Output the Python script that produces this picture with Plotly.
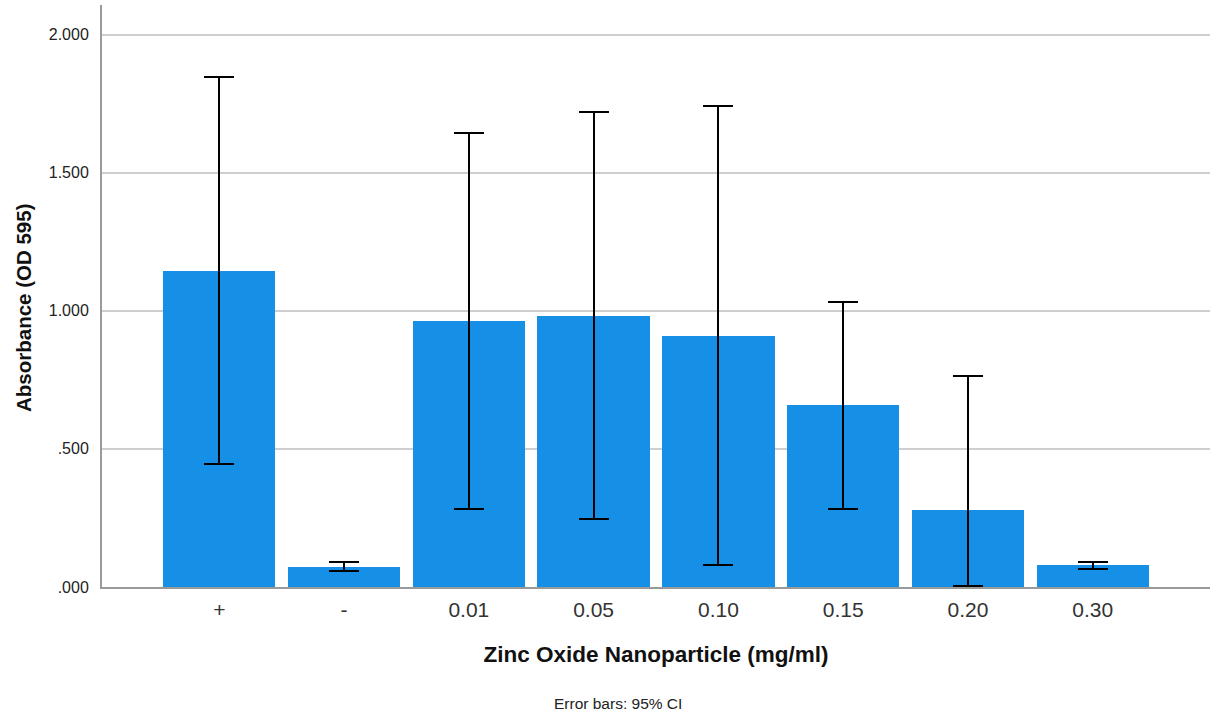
import plotly.graph_objects as go

categories = ["+", "-", "0.01", "0.05", "0.10", "0.15", "0.20", "0.30"]
means = [1.143, 0.074, 0.962, 0.980, 0.908, 0.658, 0.277, 0.080]
ci_upper = [1.846, 0.092, 1.643, 1.719, 1.741, 1.031, 0.763, 0.091]
ci_lower = [0.444, 0.057, 0.284, 0.245, 0.078, 0.284, 0.002, 0.066]
y_ticks = [0, 0.5, 1.0, 1.5, 2.0]
y_tick_labels = [".000", ".500", "1.000", "1.500", "2.000"]

x = list(range(len(categories)))
err_plus = [u - m for u, m in zip(ci_upper, means)]
err_minus = [m - l for m, l in zip(means, ci_lower)]

fig = go.Figure()
fig.add_trace(go.Bar(
    x=x, y=means, width=0.9,
    marker=dict(color="#1590e6", line=dict(width=0)),
    error_y=dict(type="data", symmetric=False, array=err_plus, arrayminus=err_minus,
                 color="black", thickness=2, width=15),
))

fig.update_layout(
    width=1211, height=715,
    margin=dict(l=102, r=1, t=5, b=128),
    plot_bgcolor="white", paper_bgcolor="white",
    font=dict(family="Liberation Sans, Arial, sans-serif", color="#222"),
    showlegend=False,
    bargap=0,
    xaxis=dict(
        range=[-0.94, 7.94], tickvals=x, ticktext=categories,
        showgrid=False, zeroline=False,
        showline=True, linecolor="#999", linewidth=2,
        ticks="", tickfont=dict(size=21, color="#333"),
        ticklabelstandoff=3,
        title=dict(text="<b>Zinc Oxide Nanoparticle (mg/ml)</b>", font=dict(size=22.5, color="#111"), standoff=26),
    ),
    yaxis=dict(
        range=[0, 2.107], tickvals=y_ticks, ticktext=y_tick_labels,
        showgrid=True, gridcolor="#cfcfcf", gridwidth=1.5,
        zeroline=False, showline=True, linecolor="#999", linewidth=2,
        ticks="", tickfont=dict(size=16, color="#222"), ticklabelstandoff=8,
    ),
    annotations=[
        dict(
            text="Error bars: 95% CI", xref="paper", yref="paper", x=0.466, y=0,
            yshift=-116, showarrow=False, font=dict(size=15.5, color="#222"),
            xanchor="center", yanchor="middle",
        ),
        dict(
            text="<b>Absorbance (OD 595)</b>", xref="paper", yref="paper", x=0, y=0.5,
            xshift=-79, yshift=-12, textangle=-90, showarrow=False,
            font=dict(size=20.5, color="#111"), xanchor="center", yanchor="middle",
        ),
    ],
)

fig.write_html("out.html")
